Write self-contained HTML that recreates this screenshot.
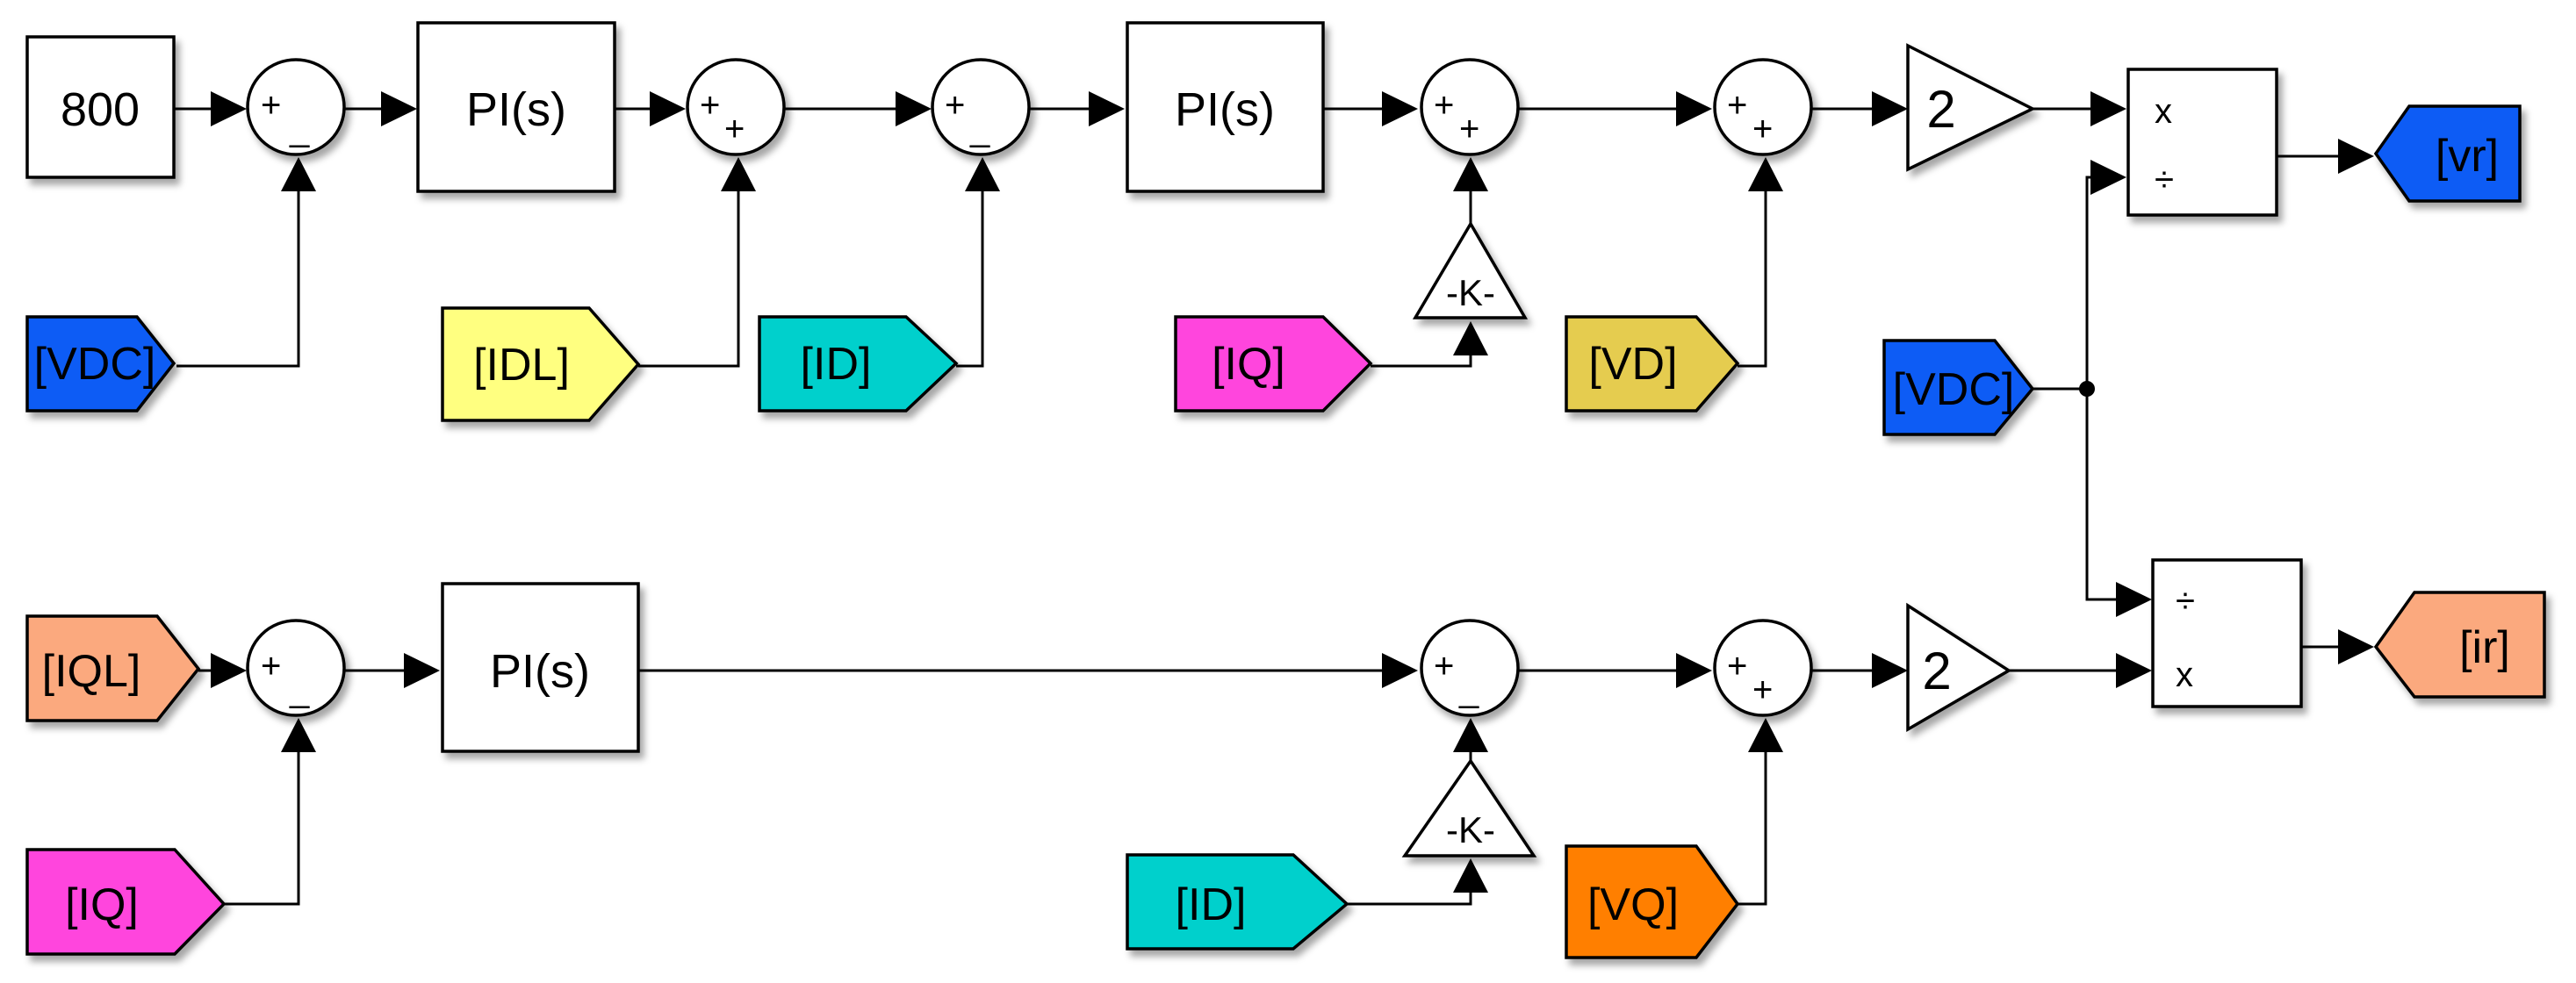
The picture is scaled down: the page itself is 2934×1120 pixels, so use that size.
<!DOCTYPE html>
<html><head><meta charset="utf-8"><style>
html,body{margin:0;padding:0;background:#fff;}
svg{display:block;}
text{font-family:"Liberation Sans",sans-serif;fill:#000;}
</style></head><body>
<svg width="2934" height="1120" viewBox="0 0 2934 1120" xmlns="http://www.w3.org/2000/svg">
<defs>
<filter id="sh" x="-10%" y="-10%" width="130%" height="130%">
<feDropShadow dx="5" dy="7" stdDeviation="4" flood-color="#000" flood-opacity="0.35"/>
</filter>
</defs>
<g stroke="#000" stroke-width="3" fill="none">
<!-- top row lines -->
<polyline points="198,124 240,124"/>
<polyline points="392,124 434,124"/>
<polyline points="700,124 740,124"/>
<polyline points="893,124 1020,124"/>
<polyline points="1172,124 1240,124"/>
<polyline points="1507,124 1574,124"/>
<polyline points="1729,124 1909,124"/>
<polyline points="2063,124 2132,124"/>
<polyline points="2315,124 2381,124"/>
<polyline points="2593,178 2663,178"/>
<polyline points="340,218 340,417 201,417"/>
<polyline points="841,218 841,417 727,417"/>
<polyline points="1119,218 1119,417 1089,417"/>
<polyline points="1675,218 1675,255"/>
<polyline points="1675,405 1675,417 1561,417"/>
<polyline points="2011,218 2011,417 1979,417"/>
<polyline points="2315,443 2377,443"/>
<polyline points="2381,202 2377,202 2377,683 2410,683"/>
<!-- bottom row lines -->
<polyline points="226,764 240,764"/>
<polyline points="392,764 460,764"/>
<polyline points="727,764 1574,764"/>
<polyline points="1730,764 1909,764"/>
<polyline points="2063,764 2132,764"/>
<polyline points="2288,764 2410,764"/>
<polyline points="2621,737 2663,737"/>
<polyline points="340,857 340,1030 255,1030"/>
<polyline points="1675,857 1675,867"/>
<polyline points="1675,1017 1675,1030 1534,1030"/>
<polyline points="2011,857 2011,1030 1979,1030"/>
</g>
<circle cx="2377" cy="443" r="9" fill="#000"/>
<!-- arrowheads -->
<g fill="#000">
<polygon points="240,104 281,124 240,144"/>
<polygon points="434,104 475,124 434,144"/>
<polygon points="740,104 781,124 740,144"/>
<polygon points="1020,104 1061,124 1020,144"/>
<polygon points="1240,104 1281,124 1240,144"/>
<polygon points="1574,104 1615,124 1574,144"/>
<polygon points="1909,104 1950,124 1909,144"/>
<polygon points="2132,104 2173,124 2132,144"/>
<polygon points="2381,104 2422,124 2381,144"/>
<polygon points="2381,182 2422,202 2381,222"/>
<polygon points="2663,158 2704,178 2663,198"/>
<polygon points="320,218 340,179 360,218"/>
<polygon points="821,218 841,179 861,218"/>
<polygon points="1099,218 1119,179 1139,218"/>
<polygon points="1655,218 1675,179 1695,218"/>
<polygon points="1655,405 1675,366 1695,405"/>
<polygon points="1991,218 2011,179 2031,218"/>
<polygon points="240,744 281,764 240,784"/>
<polygon points="460,744 501,764 460,784"/>
<polygon points="1574,744 1615,764 1574,784"/>
<polygon points="1909,744 1950,764 1909,784"/>
<polygon points="2132,744 2173,764 2132,784"/>
<polygon points="2410,663 2451,683 2410,703"/>
<polygon points="2410,744 2451,764 2410,784"/>
<polygon points="2663,717 2704,737 2663,757"/>
<polygon points="320,857 340,818 360,857"/>
<polygon points="1655,857 1675,818 1695,857"/>
<polygon points="1655,1017 1675,978 1695,1017"/>
<polygon points="1991,857 2011,818 2031,857"/>
</g>
<!-- blocks -->
<g stroke="#000" stroke-width="3.5" filter="url(#sh)">
<rect x="31" y="42" width="167" height="160" fill="#fff"/>
<rect x="476" y="26" width="224" height="192" fill="#fff"/>
<rect x="1284" y="26" width="223" height="192" fill="#fff"/>
<rect x="2424" y="79" width="169" height="166" fill="#fff"/>
<rect x="504" y="665" width="223" height="191" fill="#fff"/>
<rect x="2452" y="638" width="169" height="167" fill="#fff"/>
<ellipse cx="337" cy="122" rx="55" ry="54" fill="#fff"/>
<ellipse cx="838" cy="122" rx="55" ry="54" fill="#fff"/>
<ellipse cx="1117" cy="122" rx="55" ry="54" fill="#fff"/>
<ellipse cx="1674" cy="122" rx="55" ry="54" fill="#fff"/>
<ellipse cx="2008" cy="122" rx="55" ry="54" fill="#fff"/>
<ellipse cx="337" cy="761" rx="55" ry="54" fill="#fff"/>
<ellipse cx="1674" cy="761" rx="55" ry="54" fill="#fff"/>
<ellipse cx="2008" cy="761" rx="55" ry="54" fill="#fff"/>
<polygon points="2173,52 2315,124 2173,193" fill="#fff"/>
<polygon points="2173,690 2288,764 2173,831" fill="#fff"/>
<polygon points="1675,255 1612,362 1737,362" fill="#fff"/>
<polygon points="1675,867 1600,975 1747,975" fill="#fff"/>
<!-- tags -->
<polygon points="31,361 156,361 198,414 156,468 31,468" fill="#0a5cf5"/>
<polygon points="504,351 671,351 727,415 671,479 504,479" fill="#ffff80"/>
<polygon points="865,361 1032,361 1089,414 1032,468 865,468" fill="#00d0cc"/>
<polygon points="1339,361 1507,361 1561,414 1507,468 1339,468" fill="#ff44dd"/>
<polygon points="1784,361 1932,361 1979,414 1932,468 1784,468" fill="#e5cc50"/>
<polygon points="2146,388 2272,388 2315,443 2272,495 2146,495" fill="#0a5cf5"/>
<polygon points="2706,175 2744,121 2870,121 2870,229 2744,229" fill="#0a5cf5"/>
<polygon points="31,702 179,702 226,762 179,821 31,821" fill="#fba97e"/>
<polygon points="31,968 199,968 255,1030 199,1087 31,1087" fill="#ff44dd"/>
<polygon points="1284,974 1473,974 1534,1030 1473,1081 1284,1081" fill="#00d0cc"/>
<polygon points="1784,964 1932,964 1979,1030 1932,1091 1784,1091" fill="#ff7f00"/>
<polygon points="2706,737 2750,675 2898,675 2898,794 2750,794" fill="#fba97e"/>
</g>
<!-- text -->
<g font-size="54" text-anchor="middle">
<text x="114" y="143">800</text>
<text x="588" y="143">PI(s)</text>
<text x="1395" y="143">PI(s)</text>
<text x="615" y="783">PI(s)</text>
<text x="2211" y="145" font-size="60">2</text>
<text x="2206" y="785" font-size="60">2</text>
</g>
<g font-size="52" text-anchor="middle">
<text x="108" y="432">[VDC]</text>
<text x="594" y="433">[IDL]</text>
<text x="952" y="432">[ID]</text>
<text x="1422" y="432">[IQ]</text>
<text x="1860" y="432">[VD]</text>
<text x="2225" y="461">[VDC]</text>
<text x="2810" y="195">[vr]</text>
<text x="104" y="782">[IQL]</text>
<text x="116" y="1048">[IQ]</text>
<text x="1379" y="1048">[ID]</text>
<text x="1860" y="1048">[VQ]</text>
<text x="2830" y="755">[ir]</text>
</g>
<g font-size="40">
<text x="1675" y="348" text-anchor="middle" font-size="42">-K-</text>
<text x="1675" y="960" text-anchor="middle" font-size="42">-K-</text>
<text x="2454" y="140">x</text>
<text x="2454" y="218">÷</text>
<text x="2478" y="698">÷</text>
<text x="2478" y="782">x</text>
</g>
<g font-size="40">
<text x="297" y="133">+</text><text x="330" y="160">_</text>
<text x="797" y="133">+</text><text x="825" y="160">+</text>
<text x="1076" y="133">+</text><text x="1105" y="160">_</text>
<text x="1633" y="133">+</text><text x="1662" y="160">+</text>
<text x="1967" y="133">+</text><text x="1996" y="160">+</text>
<text x="297" y="772">+</text><text x="330" y="799">_</text>
<text x="1633" y="772">+</text><text x="1662" y="799">_</text>
<text x="1967" y="772">+</text><text x="1996" y="799">+</text>
</g>
</svg>
</body></html>
